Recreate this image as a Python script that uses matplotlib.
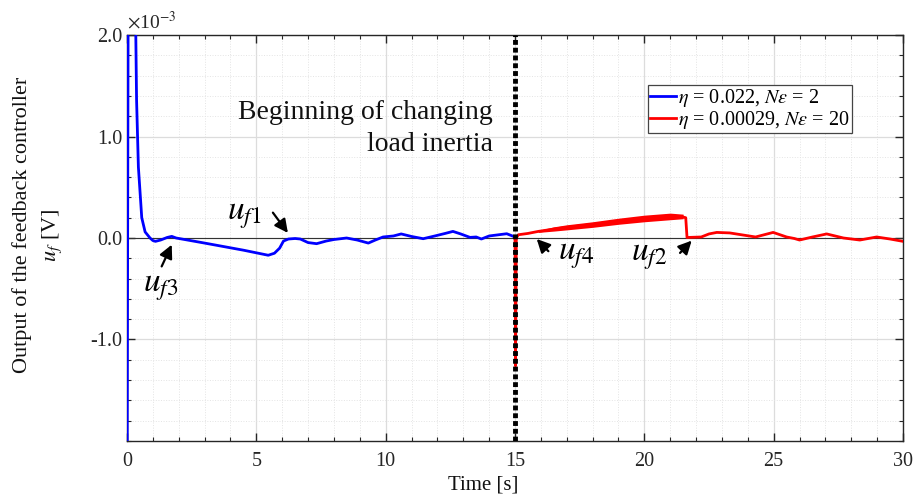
import matplotlib
matplotlib.use("Agg")
import matplotlib.pyplot as plt
from matplotlib.ticker import MultipleLocator

plt.rcParams['font.family'] = ['Liberation Serif', 'DejaVu Serif']
plt.rcParams['mathtext.fontset'] = 'stix'

# data (values in units of 1e-3 V)
blue_t = [0.0, 0.05, 0.3, 0.34, 0.37, 0.44, 0.57, 0.7, 0.89, 1.0, 1.1, 1.3, 1.55, 1.73, 1.9,
          3.0, 4.5, 5.46, 5.7, 5.9, 6.05, 6.24, 6.5, 6.7, 7.0, 7.33, 7.7, 8.0, 8.49, 8.9,
          9.33, 9.6, 9.9, 10.3, 10.6, 11.0, 11.45, 11.9, 12.3, 12.6, 12.9, 13.26, 13.5,
          13.7, 14.0, 14.68, 14.95]
blue_v = [-3.0, 3.0, 3.0, 2.0, 1.36, 0.70, 0.20, 0.06, 0.0, -0.025, -0.033, -0.02, 0.005, 0.016, 0.0,
          -0.05, -0.12, -0.17, -0.15, -0.10, -0.03, -0.01, -0.005, -0.01, -0.045, -0.056, -0.03, -0.015, 0.0, -0.02,
          -0.05, -0.02, 0.01, 0.02, 0.04, 0.015, -0.007, 0.02, 0.045, 0.065, 0.04, 0.006, 0.01,
          -0.01, 0.02, 0.042, 0.015]

red_t = [15.0, 15.02, 15.05, 15.13, 15.5, 15.9, 16.5, 17.0, 18.0, 19.0, 20.0, 20.86, 21.44, 21.6,
         21.65, 22.2, 22.5, 22.8, 23.3, 23.8, 24.3, 24.98, 25.5, 25.8, 26.0, 26.5, 27.05, 27.7,
         28.33, 28.98, 29.5, 30.0]
red_v = [0.0, -1.26, 0.0, 0.032, 0.045, 0.065, 0.088, 0.105, 0.133, 0.165, 0.193, 0.215, 0.21, 0.2,
         0.005, 0.01, 0.04, 0.055, 0.05, 0.03, 0.01, 0.055, 0.01, -0.005, -0.02, 0.01, 0.04, 0.0,
         -0.02, 0.01, -0.01, -0.033]

# oscillation envelope of the red response
band_t = [15.9, 16.5, 17.0, 18.0, 19.0, 20.0, 21.0, 21.5]
band_hi = [0.075, 0.11, 0.13, 0.16, 0.195, 0.225, 0.245, 0.235]
band_lo = [0.055, 0.068, 0.08, 0.105, 0.135, 0.16, 0.18, 0.19]

legend_labels = [r'$\eta$ = 0.022, $N\varepsilon$ = 2', r'$\eta$ = 0.00029, $N\varepsilon$ = 20']
x_ticks = [0, 5, 10, 15, 20, 25, 30]
y_ticks = [-1.0, 0.0, 1.0, 2.0]
y_ticklabels = ['-1.0', '0.0', '1.0', '2.0']

fig = plt.figure(figsize=(9.15, 5.01), dpi=100)
ax = fig.add_axes([0.1388, 0.1198, 0.8481, 0.8103])

ax.set_xlim(0, 30)
ax.set_ylim(-2.0, 2.0)
ax.xaxis.set_minor_locator(MultipleLocator(1))
ax.yaxis.set_minor_locator(MultipleLocator(0.2))
ax.set_xticks(x_ticks)
ax.set_xticklabels([str(t) for t in x_ticks])
ax.set_yticks(y_ticks)
ax.set_yticklabels(y_ticklabels)
ax.grid(which='major', color='#dcdcdc', lw=0.9, ls='-')
ax.grid(which='minor', color='#e4e4e4', lw=0.7, ls=':')
ax.set_axisbelow(True)
ax.tick_params(which='both', direction='in', top=True, right=True, labelsize=14.5, colors='#262626')
ax.tick_params(axis='x', which='major', pad=8)
ax.tick_params(which='major', length=6, width=1)
ax.tick_params(which='minor', length=3, width=0.8)
for s in ax.spines.values():
    s.set_color('#262626')
    s.set_linewidth(1.0)

ax.axhline(0, color='#333333', lw=0.8, zorder=2)

lb, = ax.plot(blue_t, blue_v, color='#0000FF', lw=2.0, zorder=3)
ax.fill_between(band_t, band_lo, band_hi, color='#FF0000', lw=0, zorder=3)
lr, = ax.plot(red_t, red_v, color='#FF0000', lw=2.0, zorder=3)

ax.axvline(15, color='black', lw=3.5, ls=(0, (1, 0.6)), zorder=4)

ax.text(14.15, 1.17, 'Beginning of changing', ha='right', va='baseline',
        fontsize=20, color='#111111')
ax.text(14.15, 0.856, 'load inertia', ha='right', va='baseline',
        fontsize=20, color='#111111')

leg = ax.legend([lb, lr], legend_labels, loc='upper right', bbox_to_anchor=(0.934, 0.877),
                fontsize=14.5, handlelength=1.3, handletextpad=0.1, borderpad=0.1,
                labelspacing=0.0, fancybox=False, framealpha=1, edgecolor='#444444',
                borderaxespad=0)
leg.get_frame().set_linewidth(0.9)

arrow = dict(arrowstyle='-|>', color='black', lw=1.6, mutation_scale=20, shrinkA=0, shrinkB=0)
ax.annotate('', xy=(6.22, 0.05), xytext=(5.64, 0.25), arrowprops=arrow)
ax.text(4.52, 0.22, r'$u_{f1}$', fontsize=24, ha='center', va='center')
ax.annotate('', xy=(1.73, -0.066), xytext=(1.34, -0.28), arrowprops=arrow)
ax.text(1.31, -0.49, r'$u_{f3}$', fontsize=24, ha='center', va='center')
ax.annotate('', xy=(15.84, -0.01), xytext=(16.29, -0.13), arrowprops=arrow)
ax.text(17.36, -0.17, r'$u_{f4}$', fontsize=24, ha='center', va='center')
ax.annotate('', xy=(21.83, -0.026), xytext=(21.38, -0.147), arrowprops=arrow)
ax.text(20.18, -0.18, r'$u_{f2}$', fontsize=24, ha='center', va='center')

ax.text(0.0, 2.02, r'$\times$10$^{-3}$', fontsize=14, ha='left', va='bottom', color='#262626')

fig.text(483 / 915, 1 - 485 / 501, 'Time [s]', fontsize=15, ha='center', va='center',
         color='#111111')
fig.text(22 / 915, 1 - 225 / 501, 'Output of the feedback controller', rotation=90, fontsize=16,
         ha='center', va='center', color='#111111')
fig.text(52 / 915, 1 - 235 / 501, r'$u_f$ [V]', rotation=90, fontsize=16, ha='center', va='center',
         color='#111111')

fig.savefig('out.png', dpi=100)
